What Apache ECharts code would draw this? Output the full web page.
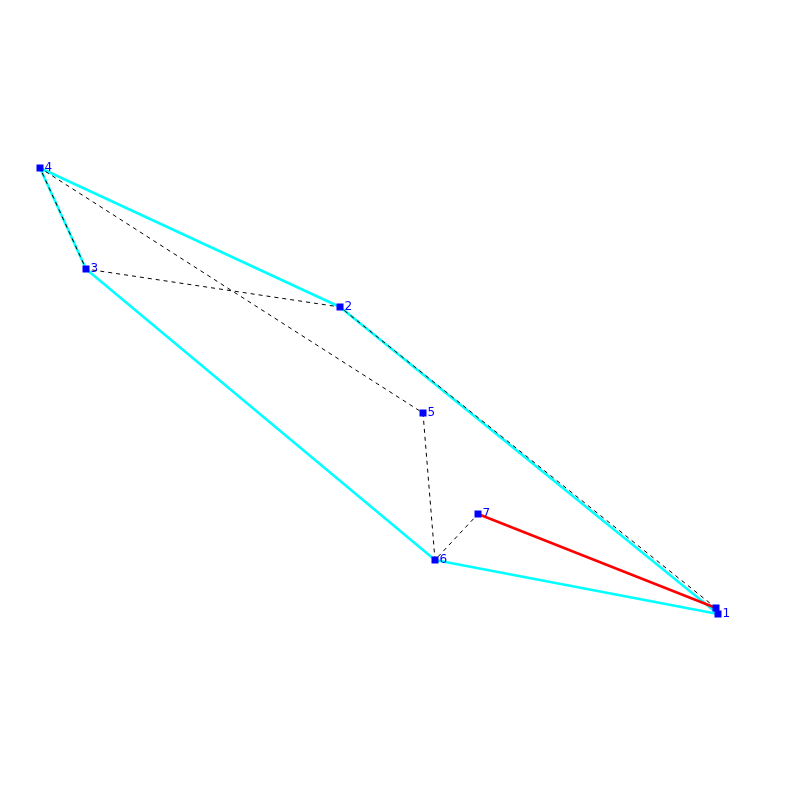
<!DOCTYPE html>
<html><head><meta charset="utf-8">
<script src="https://cdn.jsdelivr.net/npm/echarts@6/dist/echarts.min.js"></script>
<style>html,body{margin:0;background:#fff}#main{width:800px;height:800px}</style>
</head><body><div id="main"></div>
<script>
// point coordinates (screen-like units, y downward)
var names = ['', '1', '2', '3', '4', '5', '6', '7'];
var xs = [716, 718, 340, 86, 40, 423, 435, 478];
var ys = [608, 614, 307, 269, 168, 413, 560, 514];
var tour = [0, 2, 3, 4, 5, 6, 7];      // dashed path
var closing = [7, 0];                  // red edge
var hull = [1, 2, 4, 3, 6, 1];         // cyan hull

function pts(idx){ return idx.map(function(i){ return [xs[i], ys[i]]; }); }

var myChart = echarts.init(document.getElementById('main'));
var option = {
    animation: false,
    grid: {left: 0, right: 0, top: 0, bottom: 0},
    xAxis: {type: 'value', min: 0, max: 800, show: false},
    yAxis: {type: 'value', min: 0, max: 800, inverse: true, show: false},
    series: [
        {type: 'line', data: pts(hull), symbol: 'none', lineStyle: {color: '#00ffff', width: 2.5}, z: 1},
        {type: 'line', data: pts(tour), symbol: 'none', lineStyle: {color: '#000', width: 1, type: [4, 4]}, z: 2},
        {type: 'line', data: pts(closing), symbol: 'none', lineStyle: {color: '#ff0000', width: 2.5}, z: 3},
        {type: 'scatter', symbol: 'rect', symbolSize: 7, itemStyle: {color: '#0000ff', opacity: 1}, z: 4,
         data: xs.map(function(x, i){ return {value: [x, ys[i]], name: names[i]}; }),
         label: {show: true, position: 'right', distance: 1, formatter: '{b}', color: '#0000ff',
                 textBorderWidth: 0, fontSize: 12, fontFamily: 'DejaVu Sans'}}
    ]
};
myChart.setOption(option);
</script></body></html>
